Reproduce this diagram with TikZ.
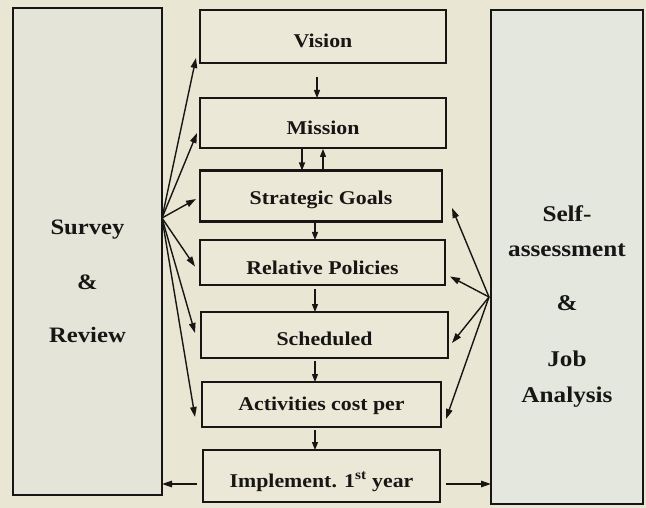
\documentclass[tikz,border=0pt]{standalone}
\usepackage{fontspec}
\setmainfont{Liberation Serif}[FakeStretch=1.12]
\usetikzlibrary{arrows.meta,calc}
\definecolor{paper}{RGB}{233,230,211}
\definecolor{sidefill}{RGB}{228,228,217}
\definecolor{rightfill}{RGB}{227,231,222}
\definecolor{boxfill}{RGB}{235,232,215}
\definecolor{ink}{RGB}{24,22,20}
\begin{document}
\begin{tikzpicture}[x=1pt,y=-1pt,
  frame/.style={draw=ink,line width=2.4pt,inner sep=0pt,outer sep=0pt},
  stepbox/.style={frame,fill=boxfill,font=\bfseries\fontsize{19.5}{22}\selectfont,text=ink},
  % places the baseline #1 below the centre of the box
  drop/.style={text height=2*#1,text depth=0pt},
  sidelabel/.style={font=\bfseries\fontsize{22}{24}\selectfont,text=ink,inner sep=0pt,anchor=base},
  arr/.style={draw=ink,line width=1.4pt,-{Triangle[length=10pt,width=6.5pt]}},
  small/.style={draw=ink,line width=1.2pt,-{Triangle[length=8pt,width=6pt]}}]
\useasboundingbox (0,0) rectangle (646,508);
\fill[paper] (0,0) rectangle (646,508);

% side boxes
\node[frame,fill=sidefill,minimum width=149pt,minimum height=487pt] (left) at (87.5,251.5) {};
\node[frame,fill=rightfill,minimum width=152pt,minimum height=494pt] (right) at (567,257) {};

\node[sidelabel] (survey) at (87.5,235) {Survey};
\node[sidelabel] (amp1) at (87.5,289) {\&};
\node[sidelabel] (review) at (87.5,342) {Review};

\node[sidelabel,font=\bfseries\fontsize{22.5}{24}\selectfont] (self) at (567,222) {Self-};
\node[sidelabel,font=\bfseries\fontsize{22.5}{24}\selectfont] (assess) at (567,256) {assessment};
\node[sidelabel,font=\bfseries\fontsize{22.5}{24}\selectfont] (amp2) at (567,310) {\&};
\node[sidelabel,font=\bfseries\fontsize{22.5}{24}\selectfont] (job) at (567,366) {Job};
\node[sidelabel,font=\bfseries\fontsize{22.5}{24}\selectfont] (analysis) at (567,402) {Analysis};

% central chain
\node[stepbox,drop=11pt,minimum width=246pt,minimum height=53pt] (vision) at (323,36.5) {Vision};
\node[stepbox,drop=12pt,minimum width=246pt,minimum height=50pt] (mission) at (323,123) {Mission};
\node[stepbox,drop=8.5pt,minimum width=242pt,minimum height=51pt] (goals) at (321,196) {Strategic Goals};
\node[stepbox,drop=12pt,minimum width=245pt,minimum height=45pt] (policies) at (322.5,262.5) {Relative Policies};
\node[stepbox,drop=10.5pt,minimum width=247pt,minimum height=46pt] (sched) at (324.5,335) {Scheduled};
\node[stepbox,drop=6pt,minimum width=239pt,minimum height=45pt] (cost) at (321.5,404.5) {Activities cost per};
\node[stepbox,drop=11.5pt,minimum width=237pt,minimum height=52pt] (impl) at (321.5,476) {Implement. 1\textsuperscript{st} year};

% arrows down the chain
\draw[small] ([xshift=-6pt,yshift=-14pt]vision.south) -- ([xshift=-6pt]mission.north);
\draw[small] ([xshift=-21pt,yshift=-1pt]mission.south) -- ([xshift=-19pt]goals.north);
\draw[small] ([xshift=2pt]goals.north) -- ([xshift=0pt,yshift=-1pt]mission.south);
\draw[small] ([xshift=-6pt,yshift=-2pt]goals.south) -- ([xshift=-7.5pt]policies.north);
\draw[small] ([xshift=-7.5pt,yshift=-4pt]policies.south) -- ([xshift=-9.5pt]sched.north);
\draw[small] ([xshift=-9.5pt,yshift=-3pt]sched.south) -- ([xshift=-6.5pt]cost.north);
\draw[small] ([xshift=-6.5pt,yshift=-3pt]cost.south) -- ([xshift=-6.5pt]impl.north);

% survey and review feeds every step
\coordinate (lfan) at (162,218);
\draw[arr] (lfan) -- ([xshift=-4pt,yshift=5pt]vision.south west);
\draw[arr] (lfan) -- ([xshift=-3pt,yshift=-10pt]mission.west);
\draw[arr] (lfan) -- ([xshift=-4pt,yshift=-3pt]goals.west);
\draw[arr] (lfan) -- ([xshift=-5pt,yshift=-4pt]policies.west);
\draw[arr] (lfan) -- ([xshift=-6pt,yshift=2pt]sched.west);
\draw[arr] (lfan) -- ([xshift=-7pt,yshift=-12.5pt]cost.west);

% self-assessment feeds the lower steps
\coordinate (rfan) at (489,297);
\draw[arr] (rfan) -- ([xshift=10pt,yshift=-12pt]goals.east);
\draw[arr] (rfan) -- ([xshift=5pt,yshift=-14pt]policies.east);
\draw[arr] (rfan) -- ([xshift=4pt,yshift=-8pt]sched.east);
\draw[arr] (rfan) -- ([xshift=5pt,yshift=-14.5pt]cost.east);

% implementation reports back to both sides
\coordinate (implL) at ([xshift=-6pt,yshift=-8pt]impl.west);
\coordinate (implR) at ([xshift=6pt,yshift=-8pt]impl.east);
\draw[arr] (implL) -- (implL -| left.east);
\draw[arr] (implR) -- (implR -| right.west);
\end{tikzpicture}
\end{document}
